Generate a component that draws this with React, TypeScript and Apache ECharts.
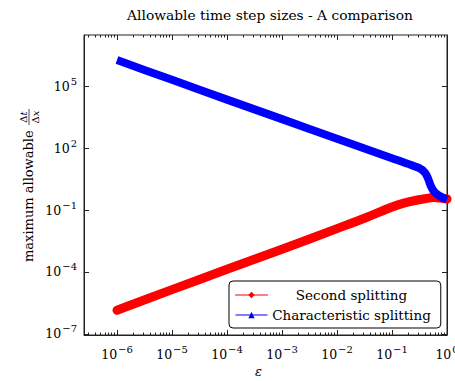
import React, { useEffect, useRef } from 'react';
import * as echarts from 'echarts';

// epsilon values and maximum allowable dt/dx
const epsSecond = [1e-6, 1e-5, 1e-4, 1e-3, 1e-2, 0.0316, 0.1, 0.158, 0.251, 0.398, 0.562, 0.794, 1];
const secondSplitting = [1.4e-6, 1.4e-5, 1.35e-4, 1.26e-3, 1.26e-2, 0.04, 0.14, 0.21, 0.28, 0.35, 0.4, 0.37, 0.34];

const epsCharacteristic = [1e-6, 1e-5, 1e-4, 1e-3, 1e-2, 0.1, 0.316, 0.4, 0.45, 0.5, 0.56, 0.63, 0.8, 1];
const characteristicSplitting = [1.8e6, 2.0e5, 2.2e4, 2.5e3, 2.8e2, 32, 10.5, 6.3, 3.5, 1.6, 0.9, 0.63, 0.42, 0.32];

const xTickExponents = [-6, -5, -4, -3, -2, -1, 0];
const yTickExponents = [-7, -4, -1, 2, 5];

const X_MIN = -6.6;
const X_MAX = 0;
const Y_MIN = -7.05;
const Y_MAX = 7.47;

const FONT = "'DejaVu Serif', 'Liberation Serif', serif";
const TXT = 13.5;

const xMinorTicks: number[] = [];
for (let n = -7; n < 0; n++) {
  for (let k = 2; k <= 9; k++) {
    const v = Math.log10(k * Math.pow(10, n));
    if (v > X_MIN && v < X_MAX) xMinorTicks.push(v);
  }
}

const supLabel = (v: number) => {
  const e = Math.round(v);
  const s = e < 0 ? '\u2212' + Math.abs(e) : String(e);
  return `{b|10}{e|${s}}`;
};

const labelRich = {
  b: { fontFamily: FONT, fontSize: 12.5, color: '#000' },
  e: { fontFamily: FONT, fontSize: 10, color: '#000', padding: [0, 0, 10, 1] },
};

const toPairs = (xs: number[], ys: number[]) => xs.map((x, i) => [Math.log10(x), Math.log10(ys[i])]);

export default function App() {
  const ref = useRef<HTMLDivElement>(null);
  useEffect(() => {
    if (!ref.current) return;
    const chart = echarts.init(ref.current, undefined, { renderer: 'svg' });
    const tickStyle = { color: '#222', width: 1 };
    const axisLine = { show: true, onZero: false, lineStyle: { color: '#222', width: 1 } };
    const noLine = { show: false, onZero: false };
    const gridBox = { left: 84, right: 8, top: 35, bottom: 46, containLabel: false, outerBoundsMode: 'none' };
    const xBase = (gridIndex: number) => ({ type: 'value', min: X_MIN, max: X_MAX, splitLine: { show: false }, gridIndex });
    const yBase = (gridIndex: number) => ({ type: 'value', min: Y_MIN, max: Y_MAX, splitLine: { show: false }, gridIndex });
    const hiddenY = (gridIndex: number) => ({ ...yBase(gridIndex), position: 'left', show: false, axisLine: noLine });
    chart.setOption({
      animation: false,
      backgroundColor: '#fff',
      title: {
        text: 'Allowable time step sizes - A comparison',
        left: 265,
        top: 3,
        textAlign: 'center',
        textStyle: { fontFamily: FONT, fontSize: 13.8, fontWeight: 'normal', color: '#000' },
      },
      grid: [
        { ...gridBox, show: true, borderColor: '#222', borderWidth: 1, backgroundColor: 'transparent' },
        { ...gridBox },
        { ...gridBox },
      ],
      xAxis: [
        {
          ...xBase(0),
          position: 'bottom',
          axisLine,
          axisTick: { show: true, inside: true, length: 5, customValues: xTickExponents, lineStyle: tickStyle },
          axisLabel: {
            show: true,
            customValues: xTickExponents,
            formatter: supLabel,
            rich: labelRich,
            margin: 9,
            showMaxLabel: true,
            hideOverlap: false,
          },
          name: '\u03b5',
          nameLocation: 'middle',
          nameGap: 30,
          nameTextStyle: { fontFamily: FONT, fontSize: 13, fontStyle: 'italic', color: '#000', padding: [0, 14, 0, 0] },
        },
        {
          ...xBase(1),
          position: 'bottom',
          axisLine: noLine,
          axisTick: { show: true, inside: true, length: 2.5, customValues: xMinorTicks, lineStyle: tickStyle },
          axisLabel: { show: false },
        },
        {
          ...xBase(1),
          position: 'top',
          axisLine: noLine,
          axisTick: { show: true, inside: true, length: 2.5, customValues: xMinorTicks, lineStyle: tickStyle },
          axisLabel: { show: false },
        },
        {
          ...xBase(2),
          position: 'top',
          axisLine: noLine,
          axisTick: { show: true, inside: true, length: 5, customValues: xTickExponents, lineStyle: tickStyle },
          axisLabel: { show: false },
        },
      ],
      yAxis: [
        {
          ...yBase(0),
          position: 'left',
          axisLine,
          axisTick: { show: true, inside: true, length: 5, customValues: yTickExponents, lineStyle: tickStyle },
          axisLabel: { show: true, customValues: yTickExponents, formatter: supLabel, rich: labelRich, margin: 7 },
        },
        {
          ...yBase(0),
          position: 'right',
          axisLine,
          axisTick: { show: true, inside: true, length: 5, customValues: yTickExponents, lineStyle: tickStyle },
          axisLabel: { show: false },
        },
        hiddenY(1),
        hiddenY(2),
      ],
      legend: {
        orient: 'vertical',
        left: 229,
        top: 281,
        padding: [6, 10, 5, 6],
        itemGap: 4,
        itemWidth: 32,
        itemHeight: 8,
        borderColor: '#000',
        borderWidth: 1,
        borderRadius: 4,
        backgroundColor: '#fff',
        lineStyle: { width: 1 },
        formatter: (name: string) => `{c|${name}}`,
        textStyle: {
          fontFamily: FONT,
          fontSize: TXT,
          lineHeight: 16,
          color: '#000',
          rich: { c: { width: 158, align: 'center', fontFamily: FONT, fontSize: TXT, lineHeight: 16, color: '#000' } },
        },
        data: ['Second splitting', 'Characteristic splitting'],
      },
      series: [
        {
          name: 'Second splitting',
          type: 'line',
          xAxisIndex: 0,
          yAxisIndex: 0,
          data: toPairs(epsSecond, secondSplitting),
          symbol: 'diamond',
          showSymbol: false,
          smooth: 0.3,
          color: '#ff0000',
          lineStyle: { color: '#ff0000', width: 9, cap: 'round', join: 'round' },
        },
        {
          name: 'Characteristic splitting',
          type: 'line',
          xAxisIndex: 0,
          yAxisIndex: 0,
          data: toPairs(epsCharacteristic, characteristicSplitting),
          symbol: 'triangle',
          showSymbol: false,
          smooth: 0.2,
          color: '#0000ff',
          lineStyle: { color: '#0000ff', width: 8, cap: 'butt', join: 'round' },
        },
      ],
      graphic: [
        {
          type: 'group',
          x: 28,
          y: 262,
          rotation: Math.PI / 2,
          children: [
            {
              type: 'text',
              x: 0,
              y: 0,
              style: { text: 'maximum allowable', fontFamily: FONT, fontSize: 13, fill: '#000', align: 'left', verticalAlign: 'middle' },
            },
            {
              type: 'text',
              x: 145,
              y: -5,
              style: {
                text: '{u|\u0394}{i|t}',
                align: 'center',
                verticalAlign: 'middle',
                rich: {
                  u: { fontFamily: FONT, fontSize: 10, fill: '#000' },
                  i: { fontFamily: FONT, fontSize: 10, fontStyle: 'italic', fill: '#000' },
                },
              },
            },
            {
              type: 'line',
              shape: { x1: 137, y1: 1, x2: 153, y2: 1 },
              style: { stroke: '#000', lineWidth: 0.7 },
            },
            {
              type: 'text',
              x: 145,
              y: 7,
              style: {
                text: '{u|\u0394}{i|x}',
                align: 'center',
                verticalAlign: 'middle',
                rich: {
                  u: { fontFamily: FONT, fontSize: 10, fill: '#000' },
                  i: { fontFamily: FONT, fontSize: 10, fontStyle: 'italic', fill: '#000' },
                },
              },
            },
          ],
        },
      ],
    });
    return () => chart.dispose();
  }, []);
  return <div ref={ref} style={{ position: 'fixed', left: 0, top: 0, width: 455, height: 381 }} />;
}
